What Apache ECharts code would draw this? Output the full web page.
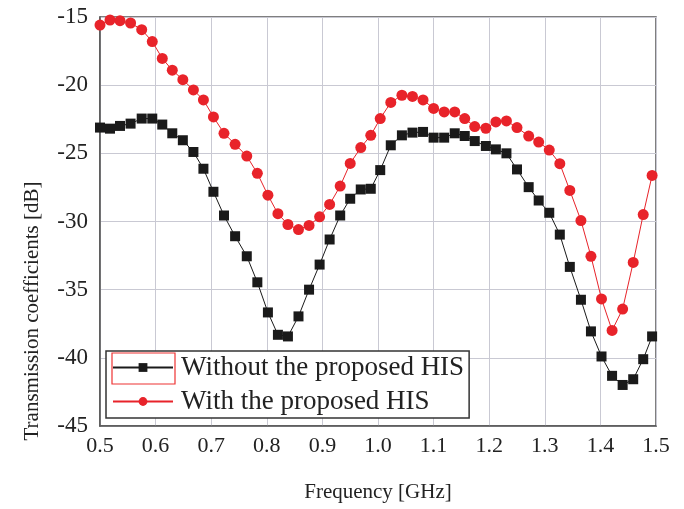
<!DOCTYPE html>
<html>
<head>
<meta charset="utf-8">
<script src="https://cdn.jsdelivr.net/npm/echarts@6/dist/echarts.min.js"></script>
<style>
html,body{margin:0;padding:0;background:#fff;}
#c{width:684px;height:509px;}
</style>
</head>
<body>
<div id="c"></div>
<script>
const freq = [0.500,0.518,0.536,0.555,0.575,0.594,0.612,0.630,0.649,0.668,
  0.686,0.704,0.723,0.743,0.764,0.783,0.802,0.820,0.838,0.857,
  0.876,0.895,0.913,0.932,0.950,0.969,0.987,1.004,1.023,1.043,
  1.062,1.081,1.100,1.119,1.138,1.156,1.174,1.194,1.212,1.231,
  1.250,1.271,1.289,1.308,1.327,1.345,1.365,1.383,1.402,1.421,
  1.440,1.459,1.477,1.493];
const withoutHIS = [-23.11,-23.19,-22.99,-22.82,-22.45,-22.45,-22.89,-23.53,-24.04,-24.9,
  -26.13,-27.82,-29.56,-31.08,-32.55,-34.46,-36.67,-38.31,-38.43,-36.96,
  -35.0,-33.16,-31.32,-29.56,-28.33,-27.65,-27.6,-26.23,-24.41,-23.68,
  -23.48,-23.43,-23.85,-23.85,-23.53,-23.73,-24.1,-24.46,-24.71,-25.0,
  -26.18,-27.48,-28.46,-29.36,-30.96,-33.33,-35.74,-38.06,-39.9,-41.32,
  -41.99,-41.57,-40.1,-38.43];
const withHIS = [-15.59,-15.22,-15.27,-15.44,-15.93,-16.8,-18.04,-18.9,-19.6,-20.35,
  -21.08,-22.33,-23.53,-24.34,-25.2,-26.47,-28.07,-29.43,-30.22,-30.59,
  -30.29,-29.66,-28.75,-27.4,-25.74,-24.58,-23.68,-22.45,-21.27,-20.74,
  -20.83,-21.08,-21.71,-21.96,-21.96,-22.45,-23.04,-23.16,-22.7,-22.62,
  -23.11,-23.73,-24.17,-24.76,-25.76,-27.72,-29.93,-32.55,-35.68,-37.99,
  -36.42,-33.0,-29.49,-26.62];
const seriesNames = ['Without the proposed HIS','With the proposed HIS'];
const xLabel = 'Frequency [GHz]';
const yLabel = 'Transmission coefficients [dB]';

const FONT = '"Liberation Serif","Times New Roman",serif';
const chart = echarts.init(document.getElementById('c'));
const pair = (ys) => freq.map((f,i)=>[f, ys[i]]);
chart.setOption({
  animation:false,
  textStyle:{fontFamily:FONT},
  grid:{left:100,right:28,top:17,bottom:83,show:true,borderColor:'#555',borderWidth:1.5,backgroundColor:'#fff'},
  xAxis:{type:'value',min:0.5,max:1.5,interval:0.1,
    name:xLabel,nameLocation:'middle',nameGap:56,
    nameTextStyle:{fontFamily:FONT,fontSize:21,color:'#222'},
    axisLine:{show:true,lineStyle:{color:'#555',width:1.5}},
    axisTick:{show:false},
    axisLabel:{fontFamily:FONT,fontSize:22,color:'#222',margin:9,formatter:v=>v.toFixed(1)},
    splitLine:{show:true,lineStyle:{color:'#c9c9d3',width:1}}},
  yAxis:{type:'value',min:-45,max:-15,interval:5,
    axisLine:{show:true,lineStyle:{color:'#555',width:1.5}},
    axisTick:{show:false},
    axisLabel:{fontFamily:FONT,fontSize:23,color:'#222',margin:12},
    splitLine:{show:true,lineStyle:{color:'#c9c9d3',width:1}}},
  legend:{orient:'vertical',left:106,top:351,
    backgroundColor:'#fff',borderColor:'#333',borderWidth:1.5,borderRadius:0,
    padding:[3,5,3,6],itemGap:7,itemWidth:60,itemHeight:11,
    textStyle:{fontFamily:FONT,fontSize:27,color:'#222',padding:[0,0,0,3]},
    data:seriesNames},
  graphic:[
    {type:'text',x:32,y:311,rotation:Math.PI/2,
     style:{text:yLabel,fontFamily:FONT,fontSize:21,fill:'#222',textAlign:'center',textVerticalAlign:'middle'}},
    {type:'rect',shape:{x:112,y:353,width:63,height:31},style:{fill:'none',stroke:'#e33',lineWidth:1.2},z:200}
  ],
  series:[
    {name:seriesNames[0],type:'line',data:pair(withoutHIS),
     symbol:'rect',symbolSize:10,
     itemStyle:{color:'#1a1a1a'},lineStyle:{color:'#1a1a1a',width:1}},
    {name:seriesNames[1],type:'line',data:pair(withHIS),
     symbol:'circle',symbolSize:11,
     itemStyle:{color:'#e8232a'},lineStyle:{color:'#e8232a',width:1}}
  ]
});
</script>
</body>
</html>
